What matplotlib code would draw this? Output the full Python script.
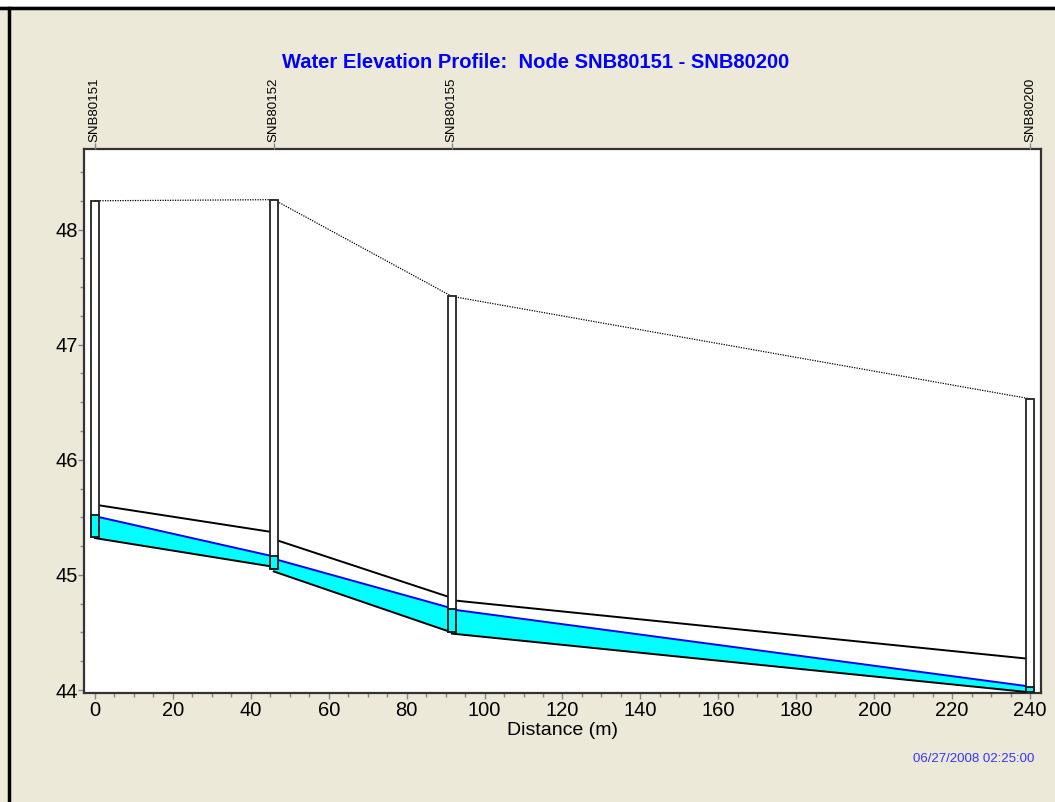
import matplotlib
matplotlib.use("Agg")
import matplotlib.pyplot as plt
from matplotlib.patches import Rectangle
from matplotlib.ticker import MultipleLocator
import numpy as np

# ---- data ----
node_names = ["SNB80151", "SNB80152", "SNB80155", "SNB80200"]
node_dist = [0.0, 45.9, 91.6, 240.0]
node_top = [48.25, 48.26, 47.42, 46.53]      # ground / rim elevation
node_invert = [45.33, 45.05, 44.50, 43.98]   # node invert elevation
node_water = [45.52, 45.16, 44.70, 44.03]    # water level in node

# links (pipes) between consecutive nodes: start/end values
link_invert_start = [45.32, 45.03, 44.49]
link_invert_end = [45.07, 44.50, 43.98]
link_crown_start = [45.61, 45.31, 44.78]
link_crown_end = [45.37, 44.80, 44.27]
link_water_start = [45.51, 45.14, 44.70]
link_water_end = [45.16, 44.71, 44.03]

title = "Water Elevation Profile:  Node SNB80151 - SNB80200"
xlabel = "Distance (m)"
timestamp = "06/27/2008 02:25:00"
x_ticks = [0, 20, 40, 60, 80, 100, 120, 140, 160, 180, 200, 220, 240]
y_ticks = [44, 45, 46, 47, 48]

# ---- style ----
BG = "#ECE9D8"
plt.rcParams['font.family'] = ['Liberation Sans', 'DejaVu Sans']

fig = plt.figure(figsize=(10.55, 8.02), dpi=100, facecolor=BG)
ax = fig.add_axes([84/1055, 1 - 693/802, (1041-84)/1055, (693-149)/802])
ax.set_facecolor("white")
ax.set_xlim(-2.8, 242.8)
ax.set_ylim(43.974, 48.70)

# ground line (dotted)
ax.plot(node_dist, node_top, color="black", lw=0.9, ls=(0, (1, 1)), zorder=2)

# links
for i in range(len(link_invert_start)):
    xs = [node_dist[i], node_dist[i+1]]
    inv = [link_invert_start[i], link_invert_end[i]]
    crn = [link_crown_start[i], link_crown_end[i]]
    wat = [link_water_start[i], link_water_end[i]]
    ax.fill_between(xs, inv, wat, color="#00FFFF", lw=0, zorder=2)
    ax.plot(xs, inv, color="black", lw=1.4, zorder=3)
    ax.plot(xs, crn, color="black", lw=1.4, zorder=3)
    ax.plot(xs, wat, color="#0000FF", lw=1.4, zorder=3)

# node manholes
tube_w = 2.0
for x, top, inv, wat in zip(node_dist, node_top, node_invert, node_water):
    ax.add_patch(Rectangle((x - tube_w/2, inv), tube_w, top - inv,
                           facecolor="white", edgecolor="none", zorder=4))
    ax.add_patch(Rectangle((x - tube_w/2, inv), tube_w, wat - inv,
                           facecolor="#00FFFF", edgecolor="none", zorder=5))
    ax.add_patch(Rectangle((x - tube_w/2, inv), tube_w, wat - inv,
                           facecolor="none", edgecolor="black", lw=1.2, zorder=6))
    ax.add_patch(Rectangle((x - tube_w/2, inv), tube_w, top - inv,
                           facecolor="none", edgecolor="#222222", lw=1.3, zorder=6))

# axes styling
for s in ["left", "bottom", "top", "right"]:
    ax.spines[s].set_color("#333333")
    ax.spines[s].set_linewidth(1.6)
ax.set_xticks(x_ticks)
ax.set_yticks(y_ticks)
ax.xaxis.set_minor_locator(MultipleLocator(5))
ax.yaxis.set_minor_locator(MultipleLocator(0.25))
ax.tick_params(axis="both", which="major", direction="out", length=4, width=1,
               color="#888888", labelsize=14.5, pad=2)
ax.tick_params(axis="y", which="major", pad=0.5)
ax.tick_params(axis="both", which="minor", direction="out", length=3, width=1,
               color="#888888")
ax.set_xlabel(xlabel, fontsize=14, labelpad=1)

# node labels on top
axt = ax.twiny()
axt.set_xlim(ax.get_xlim())
axt.set_xticks(node_dist)
axt.set_xticklabels(node_names, rotation=90, fontsize=9.5)
axt.tick_params(axis="x", direction="out", length=4, width=1, color="#888888", pad=1)
for s in axt.spines.values():
    s.set_visible(False)

fig.text(536/1055, 1 - 62/802, title, color="#0000FF", fontsize=14.5,
         fontweight="bold", ha="center", va="center",
         family=['Liberation Sans Narrow', 'Liberation Sans', 'DejaVu Sans'])
fig.text(1034/1055, 1 - 759/802, timestamp, color="#3333FF", fontsize=9.5,
         ha="right", va="center")

# page border (top strip and frame lines)
fig.add_artist(Rectangle((0, 1 - 6/802), 1, 6/802, transform=fig.transFigure,
                         facecolor="white", edgecolor="none"))
fig.add_artist(plt.Line2D([0, 1], [1 - 7.5/802, 1 - 7.5/802], transform=fig.transFigure,
                          color="black", lw=2.5))
fig.add_artist(plt.Line2D([8.5/1055, 8.5/1055], [0, 1 - 7.5/802], transform=fig.transFigure,
                          color="black", lw=2.5))

fig.savefig("out.png", dpi=100, facecolor=BG)
